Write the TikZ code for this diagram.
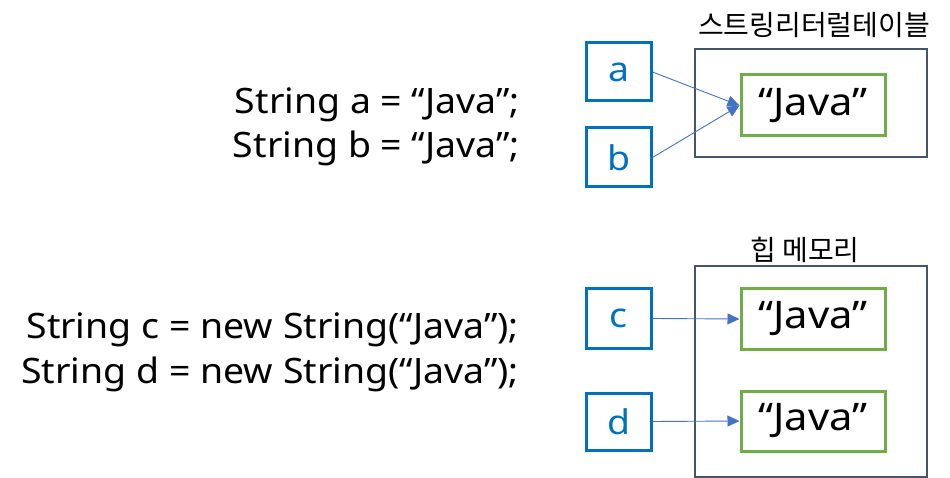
\documentclass[tikz,border=0pt]{standalone}
\usepackage{fontspec}
\setmainfont{Noto Sans}[FakeStretch=1.07]
\newfontfamily\wide{Noto Sans}[FakeStretch=1.1]
\newfontfamily\kr{Noto Sans CJK KR}
\usetikzlibrary{arrows.meta}
\definecolor{varblue}{HTML}{0070C0}
\definecolor{strgreen}{HTML}{70AD47}
\definecolor{frame}{HTML}{44546A}
\definecolor{arrowblue}{HTML}{4472C4}
\begin{document}
\begin{tikzpicture}[x=1pt,y=-1pt,
  varbox/.style={draw=varblue,line width=3pt,minimum width=65pt,minimum height=58pt,inner sep=0pt,text=varblue,font=\wide\fontsize{34}{38}\selectfont},
  strbox/.style={draw=strgreen,line width=3pt,minimum width=144pt,minimum height=60pt,inner sep=0pt,font=\wide\fontsize{38}{42}\selectfont},
  areabox/.style={draw=frame,line width=2pt,minimum width=232pt,inner sep=0pt},
  code/.style={anchor=base east,inner sep=0pt,font=\fontsize{35}{40}\selectfont},
  arealabel/.style={inner sep=0pt,font=\kr\fontsize{28}{32}\selectfont},
  ptr/.style={draw=arrowblue,line width=0.9pt,-{Triangle[length=12pt,width=11pt]}}
]
\useasboundingbox (0,0) rectangle (950,478);
\node[code] (la) at (520,114) {String a = “Java”;};
\node[code] (lb) at (520,158) {String b = “Java”;};
\node[code] (lc) at (519,338) {String c = new String(“Java”);};
\node[code] (ld) at (519,383) {String d = new String(“Java”);};

\node[areabox,minimum height=108pt] (pool) at (811,103) {};
\node[areabox,minimum height=211pt] (heap) at (811,371.5) {};
\node[arealabel] (poollabel) at (814,25) {스트링리터럴테이블};
\node[arealabel] (heaplabel) at (805,250) {힙 메모리};

\node[strbox,minimum height=61pt] (s1) at (813,105.5) {“Java”};
\node[strbox] (s2) at (813,319) {“Java”};
\node[strbox] (s3) at (813,421) {“Java”};

\node[varbox] (a) at (618.5,72) {a};
\node[varbox,minimum height=59pt] (b) at (618.5,157.5) {b};
\node[varbox,minimum height=59pt] (c) at (618.5,318.5) {c};
\node[varbox,minimum height=57pt] (d) at (618.5,421.5) {d};

\draw[ptr] (a.east) -- (s1.west);
\draw[ptr] (b.east) -- (s1.west);
\draw[ptr] (c.east) -- (s2.west);
\draw[ptr] (d.east) -- (s3.west);
\end{tikzpicture}
\end{document}
